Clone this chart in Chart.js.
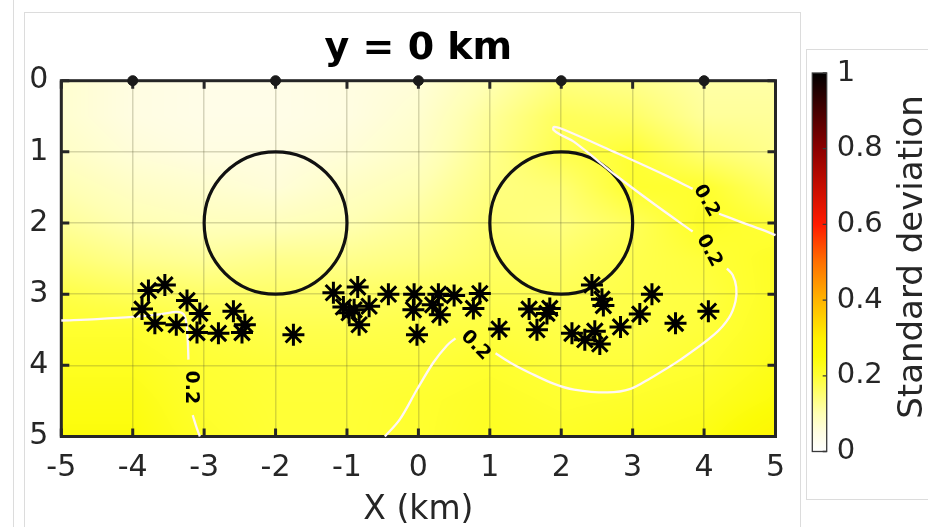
<!DOCTYPE html>
<html>
<head>
<meta charset="utf-8">
<script src="https://cdn.jsdelivr.net/npm/chart.js@4/dist/chart.umd.min.js"></script>
<style>
  html, body { margin: 0; padding: 0; background: #ffffff; }
  #wrap { position: relative; width: 928px; height: 527px; overflow: hidden; background: #ffffff; }
  #wrap canvas { position: absolute; left: 0; top: 0; }
  .frame { position: absolute; border: 1px solid #dcdcdc; box-sizing: border-box; }
</style>
</head>
<body>
<div id="wrap">
  <div class="frame" style="left:-20px;top:-2px;width:34px;height:540px"></div>
  <div class="frame" style="left:24px;top:12px;width:777px;height:530px"></div>
  <div class="frame" style="left:806px;top:49px;width:140px;height:451px"></div>
  <canvas id="main" width="928" height="527"></canvas>
  <canvas id="cbar" width="928" height="527"></canvas>
</div>
<script>
// ---- axes ----
const xTicks = [-5, -4, -3, -2, -1, 0, 1, 2, 3, 4, 5];
const zTicks = [0, 1, 2, 3, 4, 5];
const colorbarTicks = [0, 0.2, 0.4, 0.6, 0.8, 1];

// ---- standard deviation field (rows: depth z, columns: x) ----
const gridX = [-5, -4, -3, -2, -1, 0, 1, 2, 3, 4, 5];
const gridZ = [0, 0.5, 1, 1.5, 2, 2.5, 3, 3.5, 4, 4.5, 5];
const stdDev = [
  [0.07, 0.05, 0.04, 0.04, 0.05, 0.06, 0.10, 0.14, 0.13, 0.11, 0.11],
  [0.07, 0.05, 0.04, 0.04, 0.05, 0.07, 0.12, 0.17, 0.16, 0.12, 0.12],
  [0.08, 0.06, 0.05, 0.05, 0.06, 0.08, 0.13, 0.18, 0.20, 0.15, 0.13],
  [0.10, 0.08, 0.07, 0.06, 0.08, 0.10, 0.14, 0.15, 0.205, 0.205, 0.16],
  [0.12, 0.10, 0.09, 0.09, 0.10, 0.12, 0.15, 0.14, 0.17, 0.215, 0.195],
  [0.15, 0.13, 0.12, 0.13, 0.13, 0.14, 0.16, 0.16, 0.18, 0.195, 0.215],
  [0.185, 0.17, 0.16, 0.16, 0.16, 0.17, 0.175, 0.175, 0.185, 0.19, 0.215],
  [0.205, 0.205, 0.19, 0.18, 0.18, 0.185, 0.19, 0.185, 0.185, 0.195, 0.22],
  [0.22, 0.22, 0.20, 0.195, 0.195, 0.195, 0.205, 0.195, 0.195, 0.205, 0.23],
  [0.235, 0.235, 0.205, 0.198, 0.198, 0.205, 0.215, 0.205, 0.21, 0.22, 0.245],
  [0.245, 0.245, 0.212, 0.199, 0.199, 0.205, 0.22, 0.215, 0.225, 0.235, 0.275]
];

// ---- colormap ----
const cmapValues = [0, 0.05, 0.1, 0.15, 0.2, 0.25, 0.3, 0.4, 0.5, 0.6, 0.8, 1];
const cmapColors = ['#ffffff', '#fffde2', '#ffffb4', '#ffff74', '#ffff34', '#fcfc06', '#fff000',
                    '#ffb400', '#ff7000', '#ff1a00', '#8c0000', '#000000'];

// ---- events (x, depth) ----
const eventX = [-3.78, -3.55, -3.87, -3.24, -3.69, -3.39, -3.06, -3.10, -2.80, -2.59, -2.43, -2.47, -1.75,
                -1.19, -0.85, -0.42, -1.05, -0.97, -0.69, -0.83, -0.90,
                -0.06, 0.28, 0.50, -0.07, 0.20, 0.30, 0.86, 0.77, -0.02, 1.13,
                1.55, 1.84, 1.80, 1.66, 2.43, 2.57, 2.59, 2.15, 2.33, 2.47, 2.54, 2.83, 3.10, 3.27, 3.60, 4.06];
const eventZ = [2.95, 2.87, 3.21, 3.09, 3.41, 3.43, 3.27, 3.54, 3.55, 3.24, 3.43, 3.54, 3.57,
                2.98, 2.90, 3.00, 3.18, 3.26, 3.17, 3.43, 3.22,
                3.00, 3.00, 3.02, 3.22, 3.15, 3.29, 2.99, 3.20, 3.57, 3.49,
                3.21, 3.20, 3.27, 3.50, 2.87, 3.07, 3.16, 3.55, 3.64, 3.52, 3.70, 3.46, 3.28, 3.00, 3.41, 3.24];

// ---- surface stations ----
const stationX = [-4, -2, 0, 2, 4];
const stationZ = [0, 0, 0, 0, 0];

// ---- circular anomalies ----
const anomalyX = [-2, 2];
const anomalyZ = [2, 2];
const anomalyR = [1, 1];

// ---- 0.2 contour, split where the labels sit ----
const contourLevel = 0.2;
const contourLeftUpper = [[-5, 3.37], [-4.5, 3.35], [-4.0, 3.32], [-3.6, 3.28], [-3.38, 3.25], [-3.29, 3.28],
                          [-3.25, 3.4], [-3.23, 3.64], [-3.22, 3.92]];
const contourLeftLower = [[-3.16, 4.70], [-3.11, 4.86], [-3.06, 5.0]];
const contourMidBottom = [[-0.47, 5.0], [-0.26, 4.76], [-0.02, 4.34], [0.21, 3.96], [0.40, 3.72], [0.52, 3.62]];
const contourLoop = [[1.08, 3.83], [1.3, 3.97], [1.57, 4.11], [1.9, 4.26], [2.18, 4.34], [2.65, 4.38], [2.97, 4.33],
                     [3.25, 4.18], [3.67, 3.92], [4.14, 3.57], [4.35, 3.33], [4.44, 3.1], [4.45, 2.9],
                     [4.40, 2.73], [4.32, 2.64]];
const contourTongue = [[3.84, 2.12], [3.31, 1.74], [2.79, 1.35], [2.18, 0.86], [1.99, 0.76], [1.89, 0.69],
                       [1.90, 0.65], [2.04, 0.69], [2.74, 1.0], [3.44, 1.32], [3.84, 1.52]];
const contourRightEdge = [[4.21, 1.87], [4.5, 1.98], [4.8, 2.09], [5.0, 2.17]];
const contourSegments = [contourLeftUpper, contourLeftLower, contourMidBottom, contourLoop, contourTongue, contourRightEdge];
const contourLabelX = [-3.19, 0.80, 4.03, 4.07];
const contourLabelZ = [4.31, 3.72, 1.69, 2.39];
const contourLabelAngle = [90, 45, 60, 62];

// ---------------------------------------------------------------
const FONT = '"DejaVu Sans", "Liberation Sans", sans-serif';
const INK = '#262626';

function hexToRgb(h) {
  return [parseInt(h.slice(1, 3), 16), parseInt(h.slice(3, 5), 16), parseInt(h.slice(5, 7), 16)];
}
const cmapRgb = cmapColors.map(hexToRgb);

function colorFor(v) {
  if (v <= cmapValues[0]) return cmapRgb[0];
  for (let k = 1; k < cmapValues.length; k++) {
    if (v <= cmapValues[k]) {
      const t = (v - cmapValues[k - 1]) / (cmapValues[k] - cmapValues[k - 1]);
      const a = cmapRgb[k - 1], b = cmapRgb[k];
      return [a[0] + (b[0] - a[0]) * t, a[1] + (b[1] - a[1]) * t, a[2] + (b[2] - a[2]) * t];
    }
  }
  return cmapRgb[cmapRgb.length - 1];
}

function indexOn(axis, v) {
  const n = axis.length - 1;
  let f = (v - axis[0]) / (axis[n] - axis[0]) * n;
  f = Math.max(0, Math.min(n, f));
  const i = Math.min(n - 1, Math.floor(f));
  return [i, f - i];
}

function sampleField(xv, zv) {
  const [i, tx] = indexOn(gridX, xv);
  const [j, tz] = indexOn(gridZ, zv);
  const a = stdDev[j][i], b = stdDev[j][i + 1], c = stdDev[j + 1][i], d = stdDev[j + 1][i + 1];
  return (a * (1 - tx) + b * tx) * (1 - tz) + (c * (1 - tx) + d * tx) * tz;
}

const toPoints = (xs, zs) => xs.map((x, k) => ({ x: x, y: zs[k] }));

// shaded field under the grid
const fieldPlugin = {
  id: 'stdField',
  beforeDraw(chart) {
    const { ctx, chartArea: a, scales: { x, y } } = chart;
    const w = Math.round(a.right - a.left), h = Math.round(a.bottom - a.top);
    const off = document.createElement('canvas');
    off.width = w; off.height = h;
    const octx = off.getContext('2d');
    const img = octx.createImageData(w, h);
    const xs = new Float64Array(w);
    for (let i = 0; i < w; i++) xs[i] = x.getValueForPixel(a.left + i + 0.5);
    for (let j = 0; j < h; j++) {
      const zv = y.getValueForPixel(a.top + j + 0.5);
      for (let i = 0; i < w; i++) {
        const c = colorFor(sampleField(xs[i], zv));
        const p = (j * w + i) * 4;
        img.data[p] = c[0]; img.data[p + 1] = c[1]; img.data[p + 2] = c[2]; img.data[p + 3] = 255;
      }
    }
    octx.putImageData(img, 0, 0);
    ctx.drawImage(off, a.left, a.top, a.right - a.left, a.bottom - a.top);
  }
};

// axes box, inward ticks and the anomaly outlines
const framePlugin = {
  id: 'axesFrame',
  beforeDatasetsDraw(chart) {
    const { ctx, chartArea: a, scales: { x, y } } = chart;
    ctx.save();
    ctx.strokeStyle = INK;
    ctx.lineWidth = 3;
    ctx.lineCap = 'butt';
    ctx.beginPath();
    const tl = 8;
    xTicks.forEach(v => {
      const px = x.getPixelForValue(v);
      ctx.moveTo(px, a.bottom); ctx.lineTo(px, a.bottom - tl);
      ctx.moveTo(px, a.top); ctx.lineTo(px, a.top + tl);
    });
    zTicks.forEach(v => {
      const py = y.getPixelForValue(v);
      ctx.moveTo(a.left, py); ctx.lineTo(a.left + tl, py);
      ctx.moveTo(a.right, py); ctx.lineTo(a.right - tl, py);
    });
    ctx.stroke();
    ctx.strokeRect(a.left, a.top, a.right - a.left, a.bottom - a.top);

    ctx.strokeStyle = '#111111';
    ctx.lineWidth = 3.2;
    anomalyX.forEach((cx, k) => {
      const px = x.getPixelForValue(cx), py = y.getPixelForValue(anomalyZ[k]);
      const rx = Math.abs(x.getPixelForValue(cx + anomalyR[k]) - px);
      const ry = Math.abs(y.getPixelForValue(anomalyZ[k] + anomalyR[k]) - py);
      ctx.beginPath();
      ctx.ellipse(px, py, rx, ry, 0, 0, Math.PI * 2);
      ctx.stroke();
    });
    ctx.restore();
  },
  afterDatasetsDraw(chart) {
    const { ctx, scales: { x, y } } = chart;
    ctx.save();
    ctx.fillStyle = '#000000';
    ctx.font = 'bold 19px ' + FONT;
    ctx.textAlign = 'center';
    ctx.textBaseline = 'middle';
    contourLabelX.forEach((cx, k) => {
      ctx.save();
      ctx.translate(x.getPixelForValue(cx), y.getPixelForValue(contourLabelZ[k]));
      ctx.rotate(contourLabelAngle[k] * Math.PI / 180);
      ctx.fillText(String(contourLevel), 0, 0);
      ctx.restore();
    });
    ctx.restore();
  }
};

const contourDatasets = contourSegments.map(seg => ({
  label: 'σ = ' + contourLevel,
  data: seg.map(p => ({ x: p[0], y: p[1] })),
  showLine: true,
  borderColor: '#fff6f6',
  borderWidth: 2.3,
  pointRadius: 0,
  tension: 0.35,
  clip: false,
  order: 5
}));

new Chart(document.getElementById('main'), {
  type: 'scatter',
  data: {
    datasets: [
      {
        label: 'Events',
        data: toPoints(eventX, eventZ),
        pointStyle: 'star',
        pointRadius: 11,
        borderColor: '#000000',
        backgroundColor: '#000000',
        borderWidth: 3,
        clip: false,
        order: 0
      },
      {
        label: 'Stations',
        data: toPoints(stationX, stationZ),
        pointStyle: 'circle',
        pointRadius: 5,
        borderColor: '#1a1a1a',
        backgroundColor: '#1a1a1a',
        borderWidth: 1,
        clip: false,
        order: 1
      },
      ...contourDatasets
    ]
  },
  options: {
    responsive: false,
    animation: false,
    devicePixelRatio: 1,
    layout: { padding: { left: 0, right: 152.5, top: 0, bottom: 0 } },
    plugins: {
      legend: { display: false },
      tooltip: { enabled: false },
      title: {
        display: true,
        text: 'y = 0 km',
        fullSize: false,
        color: '#000000',
        font: { family: FONT, size: 38, weight: 'bold', lineHeight: 1 },
        padding: { top: 30, bottom: 12.7 }
      }
    },
    scales: {
      x: {
        type: 'linear', min: -5, max: 5,
        afterBuildTicks: s => { s.ticks = xTicks.map(v => ({ value: v })); },
        ticks: { color: INK, font: { family: FONT, size: 30 }, padding: 13.5, maxRotation: 0 },
        grid: { color: 'rgba(90,90,50,0.25)', lineWidth: 1.5, drawTicks: false },
        border: { display: false },
        title: { display: true, text: 'X (km)', color: INK, font: { family: FONT, size: 33, lineHeight: 1 }, padding: { top: 0, bottom: 0 } },
        afterFit: s => { s.height = 527 - 436.5; }
      },
      y: {
        type: 'linear', min: 0, max: 5, reverse: true,
        afterBuildTicks: s => { s.ticks = zTicks.map(v => ({ value: v })); },
        ticks: { color: INK, font: { family: FONT, size: 30 }, padding: 13 },
        grid: { color: 'rgba(90,90,50,0.25)', lineWidth: 1.5, drawTicks: false },
        border: { display: false },
        afterFit: s => { s.width = 61.3; }
      }
    }
  },
  plugins: [fieldPlugin, framePlugin]
});

// ---- colour bar ----
const colorbarPlugin = {
  id: 'colorbar',
  beforeDraw(chart) {
    const { ctx, chartArea: a, scales: { y } } = chart;
    ctx.save();
    const g = ctx.createLinearGradient(0, y.getPixelForValue(0), 0, y.getPixelForValue(1));
    cmapValues.forEach((v, k) => g.addColorStop(v, cmapColors[k]));
    ctx.fillStyle = g;
    ctx.fillRect(a.left, a.top, a.right - a.left, a.bottom - a.top);
    ctx.strokeStyle = '#3a3a3a';
    ctx.lineWidth = 1.3;
    ctx.strokeRect(a.left, a.top, a.right - a.left, a.bottom - a.top);
    ctx.beginPath();
    colorbarTicks.forEach(v => {
      const py = y.getPixelForValue(v);
      ctx.moveTo(a.right, py); ctx.lineTo(a.right - 4, py);
    });
    ctx.stroke();
    ctx.fillStyle = INK;
    ctx.font = '34px ' + FONT;
    ctx.textAlign = 'center';
    ctx.textBaseline = 'middle';
    ctx.translate(913, 257);
    ctx.rotate(-Math.PI / 2);
    ctx.fillText('Standard deviation', 0, 0);
    ctx.restore();
  }
};

new Chart(document.getElementById('cbar'), {
  type: 'scatter',
  data: { datasets: [] },
  options: {
    responsive: false,
    animation: false,
    devicePixelRatio: 1,
    layout: { padding: { left: 812.3, right: 0, top: 73, bottom: 527 - 451.5 } },
    plugins: { legend: { display: false }, tooltip: { enabled: false } },
    scales: {
      x: { display: false, min: 0, max: 1 },
      y: {
        position: 'right', min: 0, max: 1,
        afterBuildTicks: s => { s.ticks = colorbarTicks.map(v => ({ value: v })); },
        ticks: {
          color: INK, font: { family: FONT, size: 29 }, padding: 10,
          callback: v => String(Math.round(v * 10) / 10)
        },
        grid: { display: false, drawTicks: false },
        border: { display: false },
        afterFit: s => { s.width = 928 - 826.7; }
      }
    }
  },
  plugins: [colorbarPlugin]
});
</script>
</body>
</html>
